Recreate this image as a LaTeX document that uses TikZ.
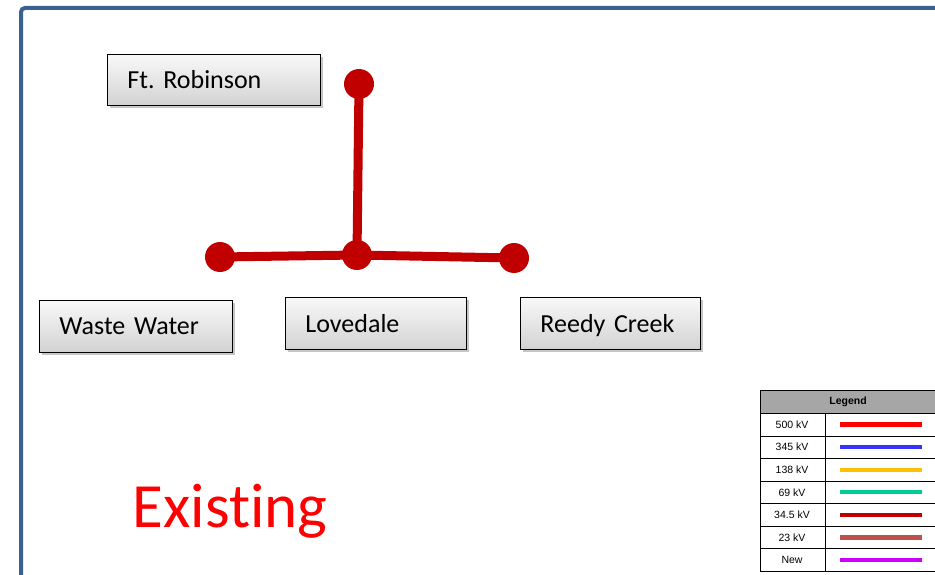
\documentclass[tikz,border=0pt]{standalone}
\usepackage{fontspec}
\setmainfont[Ligatures=CommonOff]{Carlito}
\newfontfamily\legendfont{Liberation Sans}
\usetikzlibrary{shadows,backgrounds}
\frenchspacing

\definecolor{framecol}{HTML}{3A6190}
\definecolor{linecol}{HTML}{C00000}
\definecolor{hdrgray}{HTML}{A6A6A6}

\tikzset{
  station/.style={draw=black, line width=0.9pt, top color=gray!5, bottom color=gray!35,
    drop shadow={shadow xshift=2.5pt, shadow yshift=-2.5pt, opacity=0.45, fill=gray},
    anchor=north west, inner xsep=20pt, inner ysep=0pt, align=left,
    font=\fontsize{26}{30}\selectfont, text depth=0pt},
  busdot/.style={circle, fill=linecol, minimum size=30pt, inner sep=0pt},
  feeder/.style={draw=linecol, line width=9pt},
  legtext/.style={font=\legendfont\fontsize{10.5}{12}\selectfont},
  legline/.style={line width=4.2pt},
}

\begin{document}
\begin{tikzpicture}[x=1pt, y=-1pt]
  \useasboundingbox (0,0) rectangle (935,575);
  \clip (0,0) rectangle (935,575);

  % outer slide frame
  \draw[framecol, line width=4pt, rounded corners=4pt] (21,580) -- (21,8) -- (940,8);

  % substations
  \node[station, text width=173pt, minimum height=51pt] (ftr) at (107,54) {Ft. Robinson};
  \node[station, text width=153pt, minimum height=52pt] (ww) at (39,300) {Waste Water};
  \node[station, text width=141pt, minimum height=52pt] (lov) at (285,297) {Lovedale};
  \node[station, text width=140pt, minimum height=52pt] (rc) at (520,297) {Reedy Creek};

  % bus dots
  \node[busdot] (top) at (359,84) {};
  \node[busdot] (left) at (220,257) {};
  \node[busdot] (mid) at (357,255) {};
  \node[busdot] (right) at (514,258) {};

  \begin{pgfonlayer}{background}
    \draw[feeder] (top.center) -- (mid.center);
    \draw[feeder] (left.center) -- (mid.center);
    \draw[feeder] (mid.center) -- (right.center);
  \end{pgfonlayer}

  % status caption
  \node[text=red, font=\fontsize{63}{70}\selectfont, anchor=base] (status) at (230,527) {Existing};

  % legend table
  \fill[hdrgray] (760,390) rectangle (940,413);
  \draw[black, line width=0.9pt] (760,390) rectangle (940,571);
  \node[legtext, font=\legendfont\bfseries\fontsize{10.5}{12}\selectfont] (leghdr) at (848,401.5) {Legend};
  \draw[black, line width=0.9pt] (825,413) -- (825,571);
  \foreach \y in {413,436,458,481,503,526,548} {
    \draw[black, line width=0.9pt] (760,\y) -- (940,\y);
  }
  \foreach \lab/\col [count=\i from 0] in
     {500 kV/FF0000, 345 kV/3333FF, 138 kV/FFC000, 69 kV/00CC99,
      34.5 kV/C00000, 23 kV/C0504D, New/CC00FF} {
    \pgfmathsetmacro{\yy}{424.5+22.6*\i}
    \definecolor{lc}{HTML}{\col}
    \node[legtext] (leg\i) at (792,\yy) {\lab};
    \draw[legline, lc] (840,\yy) -- (922,\yy);
  }
\end{tikzpicture}
\end{document}
